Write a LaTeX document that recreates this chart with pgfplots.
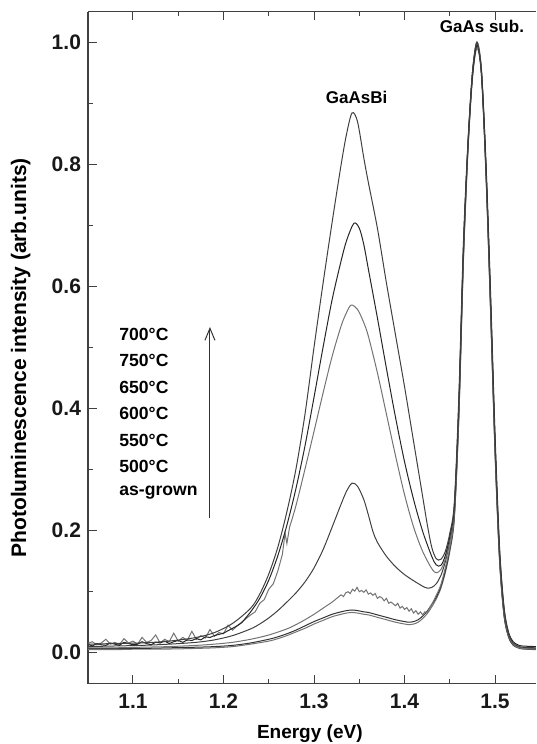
\documentclass[border=0pt]{standalone}
\usepackage{fontspec}
\setmainfont{Liberation Sans}
\usepackage{pgfplots}
\usepackage{pgfplotstable}
\pgfplotsset{compat=1.18}
\usetikzlibrary{arrows.meta,calc}

% PL spectra (E in eV, normalised intensity)
\pgfplotstableread{
E I
1.05 0.013
1.08 0.014
1.11 0.015
1.14 0.018
1.17 0.024
1.19 0.032
1.21 0.047
1.23 0.072
1.24 0.095
1.25 0.128
1.26 0.172
1.27 0.230
1.28 0.300
1.29 0.390
1.30 0.500
1.31 0.605
1.32 0.705
1.33 0.800
1.336 0.850
1.342 0.884
1.348 0.870
1.355 0.810
1.36 0.770
1.37 0.695
1.38 0.605
1.39 0.520
1.40 0.435
1.41 0.345
1.42 0.255
1.425 0.210
1.43 0.172
1.435 0.153
1.44 0.152
1.445 0.165
1.45 0.195
1.455 0.245
1.46 0.42
1.465 0.67
1.47 0.835
1.475 0.95
1.48 1.00
1.485 0.945
1.49 0.79
1.495 0.58
1.50 0.345
1.505 0.165
1.51 0.07
1.515 0.03
1.52 0.015
1.525 0.01
1.53 0.008
1.545 0.007
}\dataSevenHundred

\pgfplotstableread{
E I
1.050 0.013
1.055 0.010
1.060 0.014
1.065 0.012
1.070 0.011
1.075 0.015
1.080 0.013
1.085 0.011
1.090 0.016
1.095 0.014
1.100 0.012
1.105 0.013
1.110 0.017
1.115 0.014
1.120 0.012
1.125 0.016
1.130 0.015
1.135 0.018
1.140 0.014
1.145 0.017
1.150 0.019
1.155 0.016
1.160 0.020
1.165 0.019
1.170 0.022
1.175 0.020
1.180 0.025
1.185 0.024
1.190 0.027
1.195 0.029
1.200 0.031
1.205 0.035
1.210 0.039
1.215 0.043
1.220 0.048
1.23 0.066
1.24 0.088
1.25 0.118
1.26 0.158
1.27 0.208
1.28 0.268
1.29 0.338
1.30 0.418
1.31 0.500
1.32 0.578
1.33 0.642
1.336 0.675
1.344 0.703
1.35 0.695
1.355 0.668
1.36 0.628
1.37 0.548
1.38 0.465
1.39 0.385
1.40 0.312
1.41 0.250
1.42 0.198
1.43 0.157
1.435 0.143
1.44 0.142
1.445 0.158
1.45 0.19
1.455 0.24
1.46 0.41
1.465 0.66
1.47 0.83
1.475 0.945
1.48 0.995
1.485 0.95
1.49 0.80
1.495 0.59
1.50 0.355
1.505 0.17
1.51 0.072
1.515 0.032
1.52 0.017
1.525 0.012
1.53 0.010
1.545 0.009
}\dataSevenFifty

\pgfplotstableread{
E I
1.050 0.014
1.055 0.017
1.060 0.012
1.065 0.015
1.070 0.021
1.075 0.013
1.080 0.016
1.085 0.012
1.090 0.022
1.095 0.015
1.100 0.018
1.105 0.013
1.110 0.024
1.115 0.016
1.120 0.019
1.125 0.028
1.130 0.015
1.135 0.021
1.140 0.017
1.145 0.031
1.150 0.018
1.155 0.024
1.160 0.019
1.165 0.034
1.170 0.021
1.175 0.027
1.180 0.023
1.185 0.037
1.190 0.026
1.195 0.032
1.200 0.030
1.205 0.044
1.210 0.036
1.215 0.043
1.220 0.049
1.225 0.055
1.230 0.061
1.235 0.066
1.240 0.080
1.245 0.086
1.250 0.103
1.255 0.112
1.260 0.133
1.265 0.160
1.268 0.195
1.270 0.178
1.273 0.205
1.28 0.240
1.29 0.300
1.30 0.362
1.31 0.425
1.32 0.485
1.33 0.535
1.336 0.557
1.341 0.569
1.348 0.562
1.355 0.540
1.36 0.518
1.37 0.458
1.38 0.390
1.39 0.322
1.40 0.258
1.41 0.205
1.42 0.165
1.43 0.137
1.435 0.130
1.44 0.135
1.445 0.152
1.45 0.185
1.455 0.235
1.46 0.40
1.465 0.65
1.47 0.825
1.475 0.945
1.48 1.00
1.485 0.955
1.49 0.795
1.495 0.575
1.50 0.34
1.505 0.16
1.51 0.066
1.515 0.028
1.52 0.013
1.525 0.008
1.53 0.006
1.545 0.005
}\dataSixFifty

\pgfplotstableread{
E I
1.05 0.009
1.08 0.010
1.11 0.011
1.14 0.013
1.17 0.016
1.19 0.020
1.21 0.027
1.23 0.038
1.24 0.046
1.25 0.056
1.26 0.068
1.27 0.082
1.28 0.097
1.29 0.115
1.30 0.138
1.31 0.168
1.32 0.205
1.33 0.243
1.336 0.264
1.342 0.277
1.348 0.272
1.355 0.250
1.36 0.225
1.365 0.198
1.37 0.180
1.38 0.157
1.39 0.140
1.40 0.127
1.41 0.117
1.42 0.108
1.425 0.105
1.43 0.106
1.435 0.112
1.44 0.125
1.445 0.148
1.45 0.182
1.455 0.232
1.46 0.40
1.465 0.655
1.47 0.83
1.475 0.95
1.48 1.00
1.485 0.95
1.49 0.79
1.495 0.57
1.50 0.335
1.505 0.155
1.51 0.062
1.515 0.026
1.52 0.012
1.525 0.008
1.53 0.006
1.545 0.005
}\dataSixHundred

\pgfplotstableread{
E I
1.05 0.007
1.08 0.007
1.11 0.008
1.14 0.009
1.17 0.011
1.19 0.013
1.21 0.016
1.23 0.021
1.25 0.028
1.27 0.038
1.28 0.045
1.29 0.053
1.30 0.062
1.31 0.072
1.32 0.082
1.325 0.088
1.3300 0.094
1.3325 0.091
1.3350 0.097
1.3375 0.099
1.3400 0.096
1.3425 0.103
1.3450 0.100
1.3475 0.106
1.3500 0.099
1.3525 0.101
1.3550 0.098
1.3575 0.102
1.3600 0.095
1.3625 0.097
1.3650 0.093
1.3675 0.096
1.3700 0.088
1.3725 0.091
1.3750 0.089
1.3775 0.084
1.3800 0.088
1.3825 0.080
1.3850 0.082
1.3875 0.079
1.3900 0.076
1.3925 0.080
1.3950 0.072
1.3975 0.075
1.4000 0.070
1.4025 0.073
1.4050 0.067
1.4075 0.071
1.4100 0.064
1.4125 0.068
1.4150 0.062
1.4175 0.066
1.4200 0.061
1.4225 0.066
1.4250 0.064
1.4275 0.072
1.4300 0.078
1.435 0.093
1.44 0.110
1.445 0.138
1.45 0.172
1.455 0.225
1.46 0.395
1.465 0.65
1.47 0.83
1.475 0.95
1.48 0.995
1.485 0.95
1.49 0.785
1.495 0.565
1.50 0.33
1.505 0.152
1.51 0.06
1.515 0.025
1.52 0.012
1.525 0.008
1.53 0.007
1.545 0.006
}\dataFiveFifty

\pgfplotstableread{
E I
1.05 0.006
1.08 0.006
1.11 0.006
1.14 0.007
1.17 0.008
1.19 0.009
1.21 0.011
1.23 0.015
1.25 0.021
1.26 0.025
1.27 0.030
1.28 0.036
1.29 0.043
1.30 0.050
1.31 0.056
1.32 0.062
1.33 0.066
1.336 0.068
1.342 0.069
1.348 0.068
1.355 0.066
1.36 0.065
1.37 0.061
1.38 0.057
1.39 0.053
1.40 0.050
1.405 0.049
1.41 0.050
1.415 0.053
1.42 0.059
1.425 0.067
1.43 0.078
1.435 0.090
1.44 0.107
1.445 0.133
1.45 0.168
1.455 0.222
1.46 0.39
1.465 0.645
1.47 0.825
1.475 0.945
1.48 0.995
1.485 0.95
1.49 0.785
1.495 0.565
1.50 0.33
1.505 0.152
1.51 0.06
1.515 0.025
1.52 0.012
1.525 0.008
1.53 0.006
1.545 0.005
}\dataFiveHundred

\pgfplotstableread{
E I
1.05 0.004
1.08 0.004
1.11 0.005
1.14 0.005
1.17 0.006
1.19 0.007
1.21 0.009
1.23 0.013
1.25 0.018
1.26 0.022
1.27 0.027
1.28 0.033
1.29 0.039
1.30 0.046
1.31 0.052
1.32 0.058
1.33 0.062
1.336 0.064
1.342 0.065
1.348 0.064
1.355 0.062
1.36 0.061
1.37 0.057
1.38 0.053
1.39 0.049
1.40 0.046
1.405 0.045
1.41 0.046
1.415 0.049
1.42 0.055
1.425 0.063
1.43 0.074
1.435 0.087
1.44 0.104
1.445 0.130
1.45 0.165
1.455 0.22
1.46 0.385
1.465 0.64
1.47 0.82
1.475 0.94
1.48 0.99
1.485 0.945
1.49 0.78
1.495 0.56
1.50 0.325
1.505 0.148
1.51 0.058
1.515 0.024
1.52 0.011
1.525 0.007
1.53 0.005
1.545 0.004
}\dataAsGrown

\begin{document}
\begin{tikzpicture}
  \begin{axis}[
    name=ax,
    scale only axis,
    width=224pt, height=336pt,
    xmin=1.0503, xmax=1.5453,
    ymin=-0.052, ymax=1.05,
    axis x line*=box, axis y line*=left,
    axis line style={black!75, line width=0.6pt},
    tick align=inside,
    major tick length=4.3pt, minor tick length=2.3pt,
    tick style={black!75, line width=0.5pt},
    xtick={1.1,1.2,1.3,1.4,1.5},
    ytick={0,0.2,0.4,0.6,0.8,1.0},
    minor x tick num=1, minor y tick num=1,
    /pgf/number format/assume math mode=true,
    /pgf/number format/.cd, fixed, fixed zerofill, precision=1, /pgfplots/.cd,
    tick label style={font=\fontsize{10.5}{12}\selectfont\bfseries, black!90},
    xticklabel style={yshift=-1.5pt},
    xlabel={Energy (eV)},
    ylabel={Photoluminescence intensity (arb.units)},
    every axis x label/.style={at={(axis description cs:0.495,0)}, anchor=north, yshift=-17pt,
      font=\fontsize{9.5}{11}\selectfont\bfseries},
    every axis y label/.style={at={(axis description cs:-0.15,0.485)}, anchor=center, rotate=90,
      font=\fontsize{10.5}{12}\selectfont\bfseries},
    every axis plot/.append style={line width=0.5pt, mark=none},
    smoothed/.style={smooth, tension=0.5},
  ]
    \addplot[black!55, smoothed] table[x=E, y=I] {\dataAsGrown};
    \addplot[black!80, smoothed] table[x=E, y=I] {\dataFiveHundred};
    % 550 C: noisy around the GaAsBi band
    \addplot[black!55, smoothed, restrict x to domain=1.05:1.3301] table[x=E, y=I] {\dataFiveFifty};
    \addplot[black!55, restrict x to domain=1.3299:1.4301] table[x=E, y=I] {\dataFiveFifty};
    \addplot[black!55, smoothed, restrict x to domain=1.4299:1.55] table[x=E, y=I] {\dataFiveFifty};
    \addplot[black!75, smoothed] table[x=E, y=I] {\dataSixHundred};
    % 650 C: noisy low-energy tail
    \addplot[black!55, restrict x to domain=1.05:1.2731] table[x=E, y=I] {\dataSixFifty};
    \addplot[black!55, smoothed, restrict x to domain=1.2729:1.55] table[x=E, y=I] {\dataSixFifty};
    % 750 C: weakly noisy low-energy tail
    \addplot[black!85, restrict x to domain=1.05:1.2201] table[x=E, y=I] {\dataSevenFifty};
    \addplot[black!85, smoothed, restrict x to domain=1.2199:1.55] table[x=E, y=I] {\dataSevenFifty};
    \addplot[black!75, smoothed] table[x=E, y=I] {\dataSevenHundred};

    \draw[black!80, line width=0.5pt, -{Straight Barb[length=6pt, width=5pt]}]
      (axis cs:1.185,0.22) -- (axis cs:1.185,0.533);
    \begin{scope}[every node/.style={anchor=west, inner sep=0pt,
        font=\fontsize{8.8}{10}\selectfont\bfseries}]
      \node at (axis cs:1.0845,0.521) {700°C};
      \node at (axis cs:1.0845,0.478) {750°C};
      \node at (axis cs:1.0845,0.434) {650°C};
      \node at (axis cs:1.0845,0.391) {600°C};
      \node at (axis cs:1.0845,0.347) {550°C};
      \node at (axis cs:1.0845,0.304) {500°C};
      \node at (axis cs:1.0845,0.261) {as-grown};
    \end{scope}
    \node[font=\fontsize{8.5}{10}\selectfont\bfseries] at (axis cs:1.347,0.910) {GaAsBi};
    \node[font=\fontsize{8.5}{10}\selectfont\bfseries] at (axis cs:1.4855,1.026) {GaAs sub.};
  \end{axis}
  \pgfresetboundingbox
  \path[use as bounding box] ([xshift=-44pt,yshift=-30.1pt]ax.south west)
    rectangle ([yshift=5.85pt]ax.north east);
\end{tikzpicture}
\end{document}
